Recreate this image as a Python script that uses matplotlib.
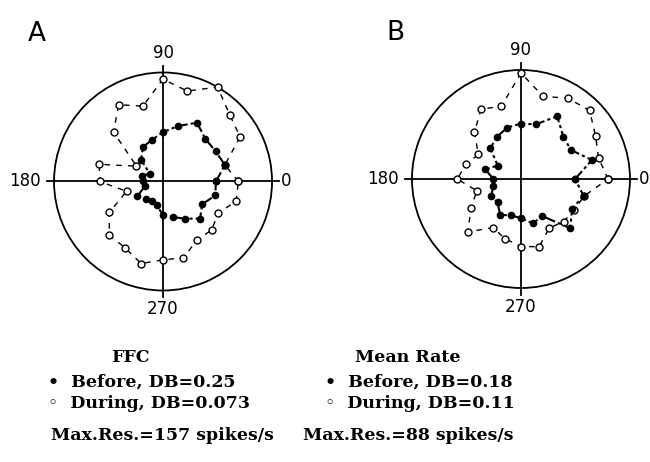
import numpy as np
import matplotlib
matplotlib.use("Agg")
import matplotlib.pyplot as plt

# directions of the stimulus, degrees
angles = [0, 15, 30, 45, 60, 75, 90, 105, 120, 135, 150, 165,
          180, 195, 210, 225, 240, 255, 270, 285, 300, 315, 330, 345]

# panel A : FFC (spikes/s), max response 157
ffc_before = [76.3, 92.2, 87.4, 86.4, 97.9, 82.6, 71.1, 61.9, 57.6, 44.7, 22.1, 31.7,
              28.8, 27.4, 42.7, 35.0, 32.2, 35.5, 48.0, 52.8, 61.9, 75.4, 65.3, 77.8]
ffc_during = [108.5, 92.2, 128.2, 135.9, 157.0, 134.9, 147.4, 112.3, 127.7, 100.8, 44.2, 95.1,
              91.2, 54.3, 89.3, 109.5, 109.9, 122.4, 112.8, 113.8, 97.5, 98.9, 91.7, 109.0]

# panel B : mean rate (spikes/s), max response 88
rate_before = [43.7, 59.3, 46.7, 48.3, 58.5, 45.6, 44.8, 42.9, 39.2, 34.9, 21.7, 29.8,
               22.3, 23.3, 27.6, 26.8, 33.5, 30.3, 31.7, 37.0, 34.6, 56.1, 47.8, 52.3]
rate_during = [70.3, 64.9, 69.5, 78.3, 75.4, 69.0, 85.6, 60.9, 64.9, 53.1, 39.7, 45.9,
               51.5, 36.8, 46.7, 60.4, 45.3, 49.9, 54.5, 56.6, 45.6, 48.8, 49.6, 52.9]

panels = ["A", "B"]
titles = ["FFC", "Mean Rate"]
db_before = ["0.25", "0.18"]
db_during = ["0.073", "0.11"]
max_res = [157, 88]

fig = plt.figure(figsize=(6.5, 4.62), dpi=100)

def polar_panel(rect, before, during, rmax):
    ax = fig.add_axes(rect, projection="polar")
    th = np.deg2rad(np.append(angles, angles[0]))
    b = np.append(before, before[0])
    d = np.append(during, during[0])
    ax.plot(th, d, color="k", lw=1.0, ls=(0, (4, 4.5)), marker="o", ms=5,
            mfc="white", mec="k", mew=1.0, clip_on=False, zorder=3)
    ax.plot(th, b, color="k", lw=1.5, ls=(0, (5, 1.5, 1.5, 1.5)), marker="o", ms=4.5,
            mfc="k", mec="k", clip_on=False, zorder=4)
    ax.set_ylim(0, rmax)
    ax.set_xticks([])
    ax.set_yticks([])
    ax.grid(False)
    ax.spines["polar"].set_linewidth(1.3)
    # cross through the centre, a bit longer than the circle
    for t in [0, 90, 180, 270]:
        ax.plot([np.deg2rad(t)] * 2, [0, rmax * 1.06], color="k", lw=1.3,
                clip_on=False, zorder=2)
    for t, f in [(0, 1.13), (90, 1.18), (180, 1.27), (270, 1.17)]:
        ax.text(np.deg2rad(t), rmax * f, str(t), ha="center", va="center",
                fontsize=12, family="DejaVu Sans")
    return ax

polar_panel([0.0831, 0.3712, 0.3354, 0.4719], ffc_before, ffc_during, max_res[0])
polar_panel([0.6338, 0.3766, 0.3354, 0.4719], rate_before, rate_during, max_res[1])

fig.text(37 / 650, 1 - 34 / 462, panels[0], fontsize=19, ha="center", va="center")
fig.text(395 / 650, 1 - 33 / 462, panels[1], fontsize=19, ha="center", va="center")

serif = dict(family="DejaVu Serif", weight="bold", fontsize=12.5, va="center")
# legend text under each panel
for i, (xc, xl) in enumerate([(130, 48), (408, 325)]):
    fig.text(xc / 650, 1 - 357 / 462, titles[i], ha="center", **serif)
    fig.text(xl / 650, 1 - 382 / 462, "\u2022  Before, DB=" + db_before[i], ha="left", **serif)
    fig.text(xl / 650, 1 - 403 / 462, "\u25e6  During, DB=" + db_during[i], ha="left", **serif)
fig.text(162 / 650, 1 - 435 / 462, "Max.Res.=%d spikes/s" % max_res[0], ha="center", **serif)
fig.text(408 / 650, 1 - 435 / 462, "Max.Res.=%d spikes/s" % max_res[1], ha="center", **serif)

fig.savefig("out.png", dpi=100)
